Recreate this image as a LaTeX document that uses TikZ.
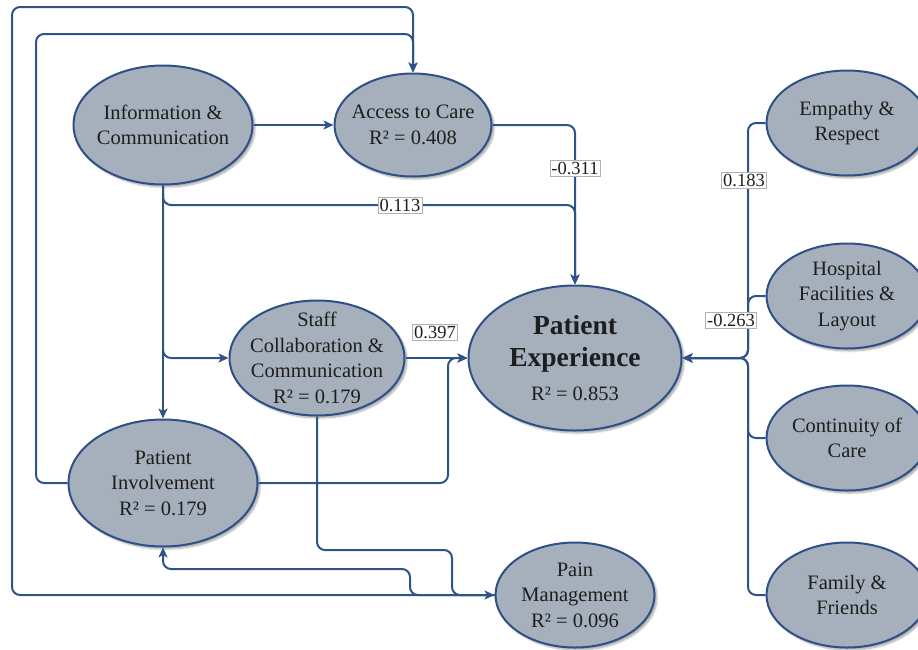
\documentclass[tikz,border=0pt]{standalone}
\usepackage{fontspec}
\setmainfont{Liberation Serif}
\usetikzlibrary{shapes.geometric,arrows.meta,shadows.blur}
\definecolor{ovalfill}{HTML}{A6AFBC}
\definecolor{ovaledge}{HTML}{2E5086}
\definecolor{linkblue}{HTML}{2F5289}
\definecolor{inktext}{HTML}{1E1E1E}
\begin{document}
\begin{tikzpicture}[x=1pt,y=-1pt,
  % the ellipse size is fixed by minimum width/height; the negative inner sep
  % keeps multi-line labels from inflating it
  construct/.style={ellipse, draw=ovaledge, line width=2pt, fill=ovalfill,
    inner sep=-30pt, align=center, text=inktext, font=\fontsize{20.5}{25.5}\selectfont,
    blur shadow={shadow xshift=2.5pt, shadow yshift=-2.5pt, shadow blur steps=8, shadow opacity=35}},
  link/.style={draw=linkblue, line width=2pt, rounded corners=8pt,
    -{Stealth[length=10pt,width=9pt,inset=2.5pt]}},
  coef/.style={draw=black!30, line width=0.5pt, fill=white, inner sep=1.5pt,
    text=inktext, font=\fontsize{18.5}{20}\selectfont}]
\useasboundingbox (0,0) rectangle (918,649);

% constructs
\node[construct, minimum width=179pt, minimum height=119pt] (info) at (163,125) {Information \&\\Communication};
\node[construct, minimum width=157pt, minimum height=103pt] (access) at (413,125) {Access to Care\\R² = 0.408};
\node[construct, minimum width=175pt, minimum height=115pt] (staff) at (317,358) {Staff\\Collaboration \&\\Communication\\R² = 0.179};
\node[construct, minimum width=213pt, minimum height=145pt,
      font=\fontsize{27.5}{32}\selectfont\bfseries] (pe) at (575,358)
      {Patient\\Experience\\[2pt]{\mdseries\fontsize{20.5}{25}\selectfont R² = 0.853}};
\node[construct, minimum width=189pt, minimum height=127pt] (pi) at (163,483) {Patient\\Involvement\\R² = 0.179};
\node[construct, minimum width=159pt, minimum height=105pt] (pain) at (575,595) {Pain\\Management\\R² = 0.096};
\node[construct, minimum width=161pt, minimum height=105pt] (emp) at (847,123) {Empathy \&\\Respect};
\node[construct, minimum width=161pt, minimum height=105pt] (hosp) at (847,296) {Hospital\\Facilities \&\\Layout};
\node[construct, minimum width=161pt, minimum height=105pt] (cont) at (847,438) {Continuity of\\Care};
\node[construct, minimum width=161pt, minimum height=105pt] (fam) at (847,595) {Family \&\\Friends};

% paths between constructs
\draw[link] (info.east) -- (access.west);
\draw[link] (access.east) -- (575,125) -- (pe.north);
\draw[link] (info.south) -- (163,205) -- (575,205) -- (pe.north);
\draw[link] (info.south) -- (163,358) -- (staff.west);
\draw[link] (info.south) -- (pi.north);
\draw[link] (staff.east) -- (pe.west);
\draw[link] (pi.east) -- (448,483) -- (448,358) -- (pe.west);
\draw[link] (staff.south) -- (317,550) -- (452,550) -- (452,595) -- (pain.west);
\draw[link] (pain.west) -- (410,595) -- (410,569) -- (163,569) -- (pi.south);
\draw[link] (pain.west) -- (12,595) -- (12,7) -- (413,7) -- (access.north);
\draw[link] (pi.west) -- (36,483) -- (36,34) -- (413,34) -- (access.north);
\draw[link] (emp.west) -- (748,123) -- (748,358) -- (pe.east);
\draw[link] (hosp.west) -- (748,296) -- (748,358) -- (pe.east);
\draw[link] (cont.west) -- (748,438) -- (748,358) -- (pe.east);
\draw[link] (fam.west) -- (748,595) -- (748,358) -- (pe.east);

% path coefficients
\node[coef] (c1) at (575,168) {-0.311};
\node[coef] (c2) at (400,205) {0.113};
\node[coef] (c3) at (435,332) {0.397};
\node[coef] (c4) at (744,180) {0.183};
\node[coef] (c5) at (731,320) {-0.263};
\end{tikzpicture}
\end{document}
